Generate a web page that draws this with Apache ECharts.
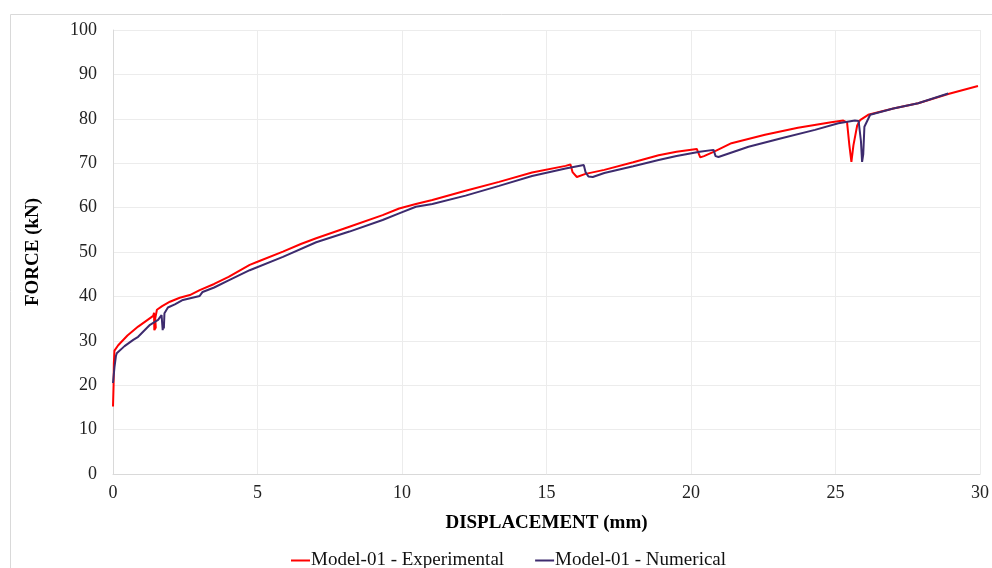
<!DOCTYPE html>
<html>
<head>
<meta charset="utf-8">
<script src="https://cdn.jsdelivr.net/npm/echarts@6/dist/echarts.min.js"></script>
<style>
  html, body { margin: 0; padding: 0; background: #fff; }
  #chart { width: 992px; height: 568px; }
</style>
</head>
<body>
<div id="chart"></div>
<script>
// displacement (mm) / force (kN)
const experimental = [
    [0, 15.2], [0.02, 20], [0.03, 25], [0.05, 27.8], [0.18, 29.0], [0.5, 31.2],
    [0.87, 33.2], [1.15, 34.5], [1.39, 35.6], [1.42, 36.3], [1.43, 32.4], [1.48, 33.0],
    [1.46, 35.0], [1.52, 37.0], [1.7, 37.8], [1.97, 38.8], [2.31, 39.7], [2.66, 40.3],
    [3.0, 41.4], [3.5, 42.8], [4.0, 44.4], [4.73, 47.1], [5.0, 47.8], [5.88, 50.1],
    [6.5, 51.8], [7.03, 53.1], [8.18, 55.7], [9.33, 58.3], [9.9, 59.8], [10.48, 60.8],
    [11.05, 61.7], [12.2, 63.8], [13.36, 65.8], [14.5, 67.9], [15.66, 69.4], [15.83, 69.7],
    [15.9, 68.0], [16.05, 66.9], [16.35, 67.6], [17.0, 68.5], [18.0, 70.2], [18.88, 71.8],
    [19.5, 72.6], [20.2, 73.2], [20.32, 71.3], [20.45, 71.6], [20.8, 72.6], [21.4, 74.5],
    [22.56, 76.4], [23.7, 78.0], [24.85, 79.2], [25.27, 79.6], [25.4, 79.2], [25.48, 74],
    [25.55, 70.3], [25.62, 74], [25.75, 78.5], [25.85, 79.7], [26.13, 80.9], [27.0, 82.3],
    [27.86, 83.5], [28.9, 85.6], [29.93, 87.4]
];
const numerical = [
    [0, 20.5], [0.05, 24], [0.1, 26.5], [0.13, 27.2], [0.4, 28.8], [0.7, 30.2],
    [0.87, 30.9], [1.28, 33.6], [1.56, 34.7], [1.68, 35.8], [1.72, 32.4], [1.74, 34],
    [1.76, 32.8], [1.78, 36.2], [1.9, 37.5], [2.14, 38.2], [2.42, 39.2], [3.0, 40.1],
    [3.1, 41.0], [3.5, 42.0], [4.0, 43.6], [4.73, 45.9], [5.88, 48.9], [7.03, 52.2],
    [8.18, 54.6], [9.33, 57.2], [9.9, 58.7], [10.48, 60.2], [11.05, 60.8], [12.2, 62.7],
    [13.36, 64.9], [14.5, 67.1], [15.66, 68.8], [16.29, 69.6], [16.35, 68.0], [16.45, 67.0],
    [16.6, 66.9], [17.0, 67.8], [18.0, 69.3], [18.88, 70.7], [19.5, 71.6], [20.3, 72.6],
    [20.78, 73.0], [20.85, 71.6], [20.95, 71.4], [21.99, 73.7], [23.13, 75.6], [24.29, 77.5],
    [25.1, 79.0], [25.67, 79.6], [25.8, 79.5], [25.88, 75], [25.92, 70.3], [25.96, 72],
    [26.0, 78.2], [26.2, 80.9], [27.0, 82.3], [27.86, 83.5], [28.9, 85.7]
];
const seriesNames = ['Model-01 - Experimental', 'Model-01 - Numerical'];
const seriesColors = ['#ff0000', '#3d2b6e'];

const font = 'Liberation Serif';
const chart = echarts.init(document.getElementById('chart'));

const option = {
    animation: false,
    graphic: [{
        type: 'rect',
        shape: { x: 10.5, y: 14.5, width: 990, height: 600 },
        style: { fill: 'none', stroke: '#d9d9d9', lineWidth: 1 },
        silent: true
    }],
    grid: { left: 113, right: 10, top: 30, bottom: 94 },
    legend: {
        top: 546,
        left: 286,
        itemGap: 31,
        itemWidth: 19,
        itemHeight: 2,
        icon: 'rect',
        textStyle: { fontFamily: font, fontSize: 19, color: '#111', padding: [0, 0, 0, -4] },
        data: seriesNames
    },
    xAxis: {
        type: 'value',
        min: 0,
        max: 30,
        interval: 5,
        name: 'DISPLACEMENT (mm)',
        nameLocation: 'middle',
        nameGap: 40,
        nameTextStyle: { fontFamily: font, fontSize: 19, fontWeight: 'bold', color: '#000' },
        axisLine: { show: true, lineStyle: { color: '#d9d9d9' } },
        axisTick: { show: false },
        axisLabel: { fontFamily: font, fontSize: 18, color: '#222', margin: 10 },
        splitLine: { show: true, lineStyle: { color: '#ececec' } }
    },
    yAxis: {
        type: 'value',
        min: 0,
        max: 100,
        interval: 10,
        name: 'FORCE (kN)',
        nameLocation: 'middle',
        nameGap: 70,
        nameTextStyle: { fontFamily: font, fontSize: 19, fontWeight: 'bold', color: '#000' },
        axisLine: { show: true, lineStyle: { color: '#d9d9d9' } },
        axisTick: { show: false },
        axisLabel: { fontFamily: font, fontSize: 18, color: '#222', margin: 16 },
        splitLine: { show: true, lineStyle: { color: '#ececec' } }
    },
    series: [
        {
            name: seriesNames[0],
            type: 'line',
            data: experimental,
            showSymbol: false,
            color: seriesColors[0],
            lineStyle: { width: 2, color: seriesColors[0] },
            z: 2
        },
        {
            name: seriesNames[1],
            type: 'line',
            data: numerical,
            showSymbol: false,
            color: seriesColors[1],
            lineStyle: { width: 2, color: seriesColors[1] },
            z: 3
        }
    ]
};

chart.setOption(option);
</script>
</body>
</html>
